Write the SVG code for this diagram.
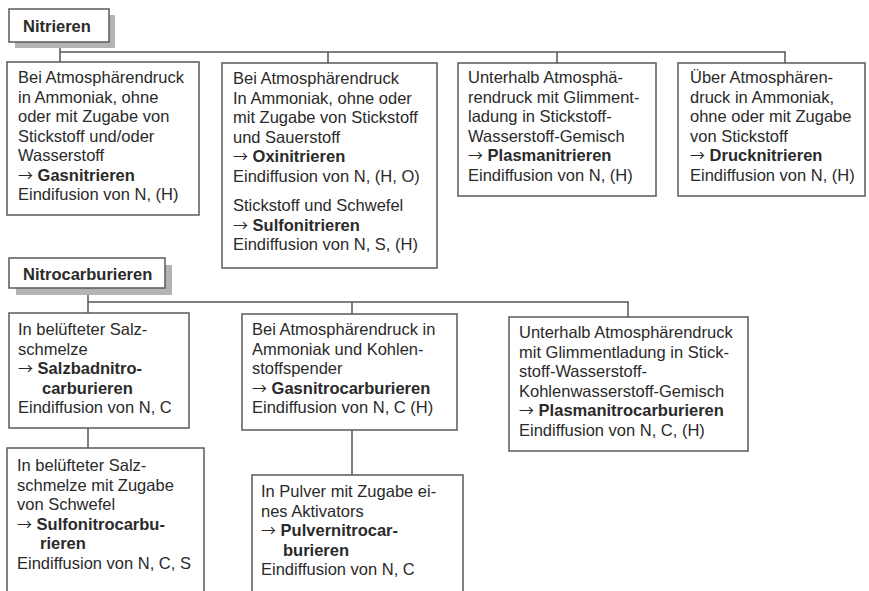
<svg xmlns="http://www.w3.org/2000/svg" width="869" height="591" viewBox="0 0 869 591">
<style>
.box{fill:#fff;stroke:#5a5a5a;stroke-width:1.5}
.shadow{fill:#b4b4b4}
.ln{fill:none;stroke:#555;stroke-width:1.5}
text{font-family:"Liberation Sans",Arial,sans-serif;font-size:16.5px;fill:#2a2a2a}
.b{font-weight:bold}
.ar{font-family:"Noto Sans CJK SC","DejaVu Sans",sans-serif;font-size:15px}
</style>
<rect width="869" height="591" fill="#fff"/>
<g id="connectors">
<path class="ln" d="M60 42V62M60 52H785V63M328 52V63M557 52V63"/>
<path class="ln" d="M88 288V313M88 302H628V317M352 302V314M88 428V448M352 430V475"/>
</g>
<g id="nitrieren">
<rect class="shadow" x="15" y="15" width="100" height="33"/>
<rect class="box" x="9" y="9" width="100" height="33"/>
<text x="23" y="32" class="b">Nitrieren</text>
</g>
<g id="gasnitrieren">
<rect class="box" x="7" y="62" width="192" height="153"/>
<text x="18" y="83">Bei Atmosphärendruck</text>
<text x="18" y="102.5">in Ammoniak, ohne</text>
<text x="18" y="122">oder mit Zugabe von</text>
<text x="18" y="141.5">Stickstoff und/oder</text>
<text x="18" y="161">Wasserstoff</text>
<text x="18" y="180.5"><tspan class="ar">→</tspan> <tspan class="b">Gasnitrieren</tspan></text>
<text x="18" y="200">Eindifusion von N, (H)</text>
</g>
<g id="oxinitrieren">
<rect class="box" x="222" y="63" width="215" height="205"/>
<text x="233" y="84">Bei Atmosphärendruck</text>
<text x="233" y="103.5">In Ammoniak, ohne oder</text>
<text x="233" y="123">mit Zugabe von Stickstoff</text>
<text x="233" y="142.5">und Sauerstoff</text>
<text x="233" y="162"><tspan class="ar">→</tspan> <tspan class="b">Oxinitrieren</tspan></text>
<text x="233" y="181.5">Eindiffusion von N, (H, O)</text>
<text x="233" y="211">Stickstoff und Schwefel</text>
<text x="233" y="230.5"><tspan class="ar">→</tspan> <tspan class="b">Sulfonitrieren</tspan></text>
<text x="233" y="250">Eindiffusion von N, S, (H)</text>
</g>
<g id="plasmanitrieren">
<rect class="box" x="458" y="63" width="198" height="133"/>
<text x="468" y="83">Unterhalb Atmosphä-</text>
<text x="468" y="102.5">rendruck mit Glimment-</text>
<text x="468" y="122">ladung in Stickstoff-</text>
<text x="468" y="141.5">Wasserstoff-Gemisch</text>
<text x="468" y="161"><tspan class="ar">→</tspan> <tspan class="b">Plasmanitrieren</tspan></text>
<text x="468" y="180.5">Eindiffusion von N, (H)</text>
</g>
<g id="drucknitrieren">
<rect class="box" x="678" y="63" width="187" height="133"/>
<text x="690" y="83">Über Atmosphären-</text>
<text x="690" y="102.5">druck in Ammoniak,</text>
<text x="690" y="122">ohne oder mit Zugabe</text>
<text x="690" y="141.5">von Stickstoff</text>
<text x="690" y="161"><tspan class="ar">→</tspan> <tspan class="b">Drucknitrieren</tspan></text>
<text x="690" y="180.5">Eindiffusion von N, (H)</text>
</g>
<g id="nitrocarburieren">
<rect class="shadow" x="16" y="265" width="156" height="30"/>
<rect class="box" x="9" y="258" width="156" height="30"/>
<text x="23" y="280" class="b">Nitrocarburieren</text>
</g>
<g id="salzbadnitrocarburieren">
<rect class="box" x="9" y="313" width="180" height="115"/>
<text x="18" y="335">In belüfteter Salz-</text>
<text x="18" y="354.5">schmelze</text>
<text x="18" y="374"><tspan class="ar">→</tspan> <tspan class="b">Salzbadnitro-</tspan></text>
<text x="42" y="393.5" class="b">carburieren</text>
<text x="18" y="413">Eindiffusion von N, C</text>
</g>
<g id="gasnitrocarburieren">
<rect class="box" x="242" y="314" width="215" height="116"/>
<text x="252" y="335">Bei Atmosphärendruck in</text>
<text x="252" y="354.5">Ammoniak und Kohlen-</text>
<text x="252" y="374">stoffspender</text>
<text x="252" y="393.5"><tspan class="ar">→</tspan> <tspan class="b">Gasnitrocarburieren</tspan></text>
<text x="252" y="413">Eindiffusion von N, C (H)</text>
</g>
<g id="plasmanitrocarburieren">
<rect class="box" x="509" y="317" width="239" height="134"/>
<text x="519" y="338">Unterhalb Atmosphärendruck</text>
<text x="519" y="357.5">mit Glimmentladung in Stick-</text>
<text x="519" y="377">stoff-Wasserstoff-</text>
<text x="519" y="396.5">Kohlenwasserstoff-Gemisch</text>
<text x="519" y="416"><tspan class="ar">→</tspan> <tspan class="b">Plasmanitrocarburieren</tspan></text>
<text x="519" y="435.5">Eindiffusion von N, C, (H)</text>
</g>
<g id="sulfonitrocarburieren">
<rect class="box" x="7" y="448" width="197" height="160"/>
<text x="17" y="471">In belüfteter Salz-</text>
<text x="17" y="490.5">schmelze mit Zugabe</text>
<text x="17" y="510">von Schwefel</text>
<text x="17" y="529.5"><tspan class="ar">→</tspan> <tspan class="b">Sulfonitrocarbu-</tspan></text>
<text x="40" y="549" class="b">rieren</text>
<text x="17" y="568.5">Eindiffusion von N, C, S</text>
</g>
<g id="pulvernitrocarburieren">
<rect class="box" x="252" y="475" width="211" height="130"/>
<text x="261" y="497">In Pulver mit Zugabe ei-</text>
<text x="261" y="516.5">nes Aktivators</text>
<text x="261" y="536"><tspan class="ar">→</tspan> <tspan class="b">Pulvernitrocar-</tspan></text>
<text x="283" y="555.5" class="b">burieren</text>
<text x="261" y="575">Eindiffusion von N, C</text>
</g>
</svg>
